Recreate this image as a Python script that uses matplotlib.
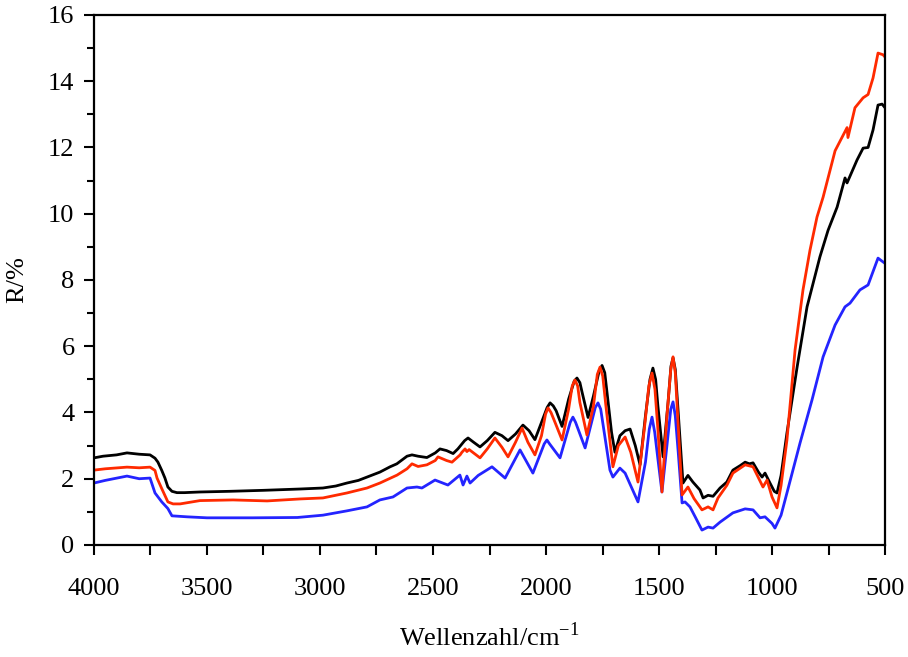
import matplotlib
matplotlib.use("Agg")
import matplotlib.pyplot as plt
from matplotlib.ticker import MultipleLocator

# Reflexionsspektren (Wellenzahl in cm^-1, R in %)
wn_black = [4000, 3960, 3900, 3854, 3800, 3752, 3730, 3717, 3700, 3686, 3673, 3655, 3633, 3600,
            3531, 3400, 3250, 3088, 2987, 2930, 2881, 2830, 2792, 2735, 2690, 2660, 2615, 2593,
            2566, 2527, 2490, 2469, 2440, 2411, 2390, 2360, 2345, 2320, 2292, 2260, 2226, 2195,
            2168, 2135, 2102, 2075, 2049, 2020, 1995, 1982, 1968, 1955, 1929, 1900, 1875, 1863,
            1850, 1840, 1814, 1790, 1765, 1752, 1740, 1730, 1710, 1695, 1673, 1650, 1628, 1605,
            1584, 1560, 1540, 1527, 1515, 1505, 1482, 1460, 1447, 1438, 1428, 1415, 1394, 1372,
            1350, 1319, 1305, 1283, 1261, 1230, 1200, 1173, 1140, 1119, 1100, 1084, 1060, 1044,
            1031, 1009, 990, 978, 960, 934, 889, 845, 788, 752, 712, 677, 668, 624, 597, 575,
            553, 531, 513, 500]
r_black = [2.63, 2.68, 2.72, 2.78, 2.74, 2.72, 2.62, 2.5, 2.25, 2.02, 1.75, 1.62, 1.58, 1.58,
           1.6, 1.62, 1.65, 1.69, 1.72, 1.78, 1.87, 1.95, 2.05, 2.2, 2.36, 2.45, 2.68, 2.72,
           2.68, 2.64, 2.78, 2.9, 2.85, 2.76, 2.9, 3.15, 3.23, 3.1, 2.96, 3.15, 3.4, 3.3,
           3.15, 3.35, 3.62, 3.45, 3.18, 3.7, 4.15, 4.29, 4.2, 4.05, 3.58, 4.4, 4.95, 5.04,
           4.9, 4.6, 3.85, 4.5, 5.25, 5.42, 5.2, 4.6, 3.4, 2.8, 3.3, 3.45, 3.5, 3.0,
           2.42, 3.9, 5.0, 5.34, 5.0, 4.2, 2.66, 4.3, 5.4, 5.65, 5.3, 4.0, 1.87, 2.1,
           1.9, 1.66, 1.42, 1.5, 1.47, 1.72, 1.9, 2.26, 2.4, 2.5, 2.45, 2.48, 2.2, 2.05,
           2.17, 1.87, 1.62, 1.57, 2.1, 3.38, 5.37, 7.19, 8.7, 9.5, 10.2, 11.08, 10.93, 11.62, 11.98, 12.0,
           12.53, 13.28, 13.31, 13.2]

wn_red = [4000, 3950, 3854, 3800, 3752, 3730, 3721, 3700, 3673, 3650, 3619, 3531, 3385, 3234,
          3088, 2987, 2881, 2792, 2735, 2659, 2615, 2593, 2566, 2527, 2490, 2478, 2440, 2416,
          2380, 2372, 2358, 2350, 2340, 2292, 2260, 2226, 2195, 2168, 2135, 2106, 2080, 2049,
          2020, 2002, 1991, 1978, 1960, 1929, 1900, 1884, 1872, 1860, 1850, 1819, 1790, 1773,
          1761, 1749, 1735, 1704, 1680, 1650, 1625, 1593, 1565, 1545, 1531, 1518, 1505, 1487,
          1465, 1448, 1438, 1428, 1415, 1398, 1372, 1345, 1319, 1310, 1283, 1261, 1239, 1200,
          1173, 1119, 1084, 1040, 1022, 1000, 978, 960, 934, 898, 863, 832, 801, 774, 721, 668,
          664, 633, 597, 575, 553, 531, 509, 496]
r_red = [2.26, 2.3, 2.35, 2.33, 2.35, 2.25, 2.02, 1.7, 1.3, 1.24, 1.24, 1.34, 1.36, 1.33,
         1.39, 1.42, 1.57, 1.72, 1.87, 2.11, 2.3, 2.45, 2.37, 2.42, 2.55, 2.66, 2.55, 2.5,
         2.72, 2.8, 2.9, 2.82, 2.88, 2.63, 2.9, 3.23, 2.95, 2.66, 3.1, 3.53, 3.1, 2.72,
         3.3, 3.95, 4.14, 4.0, 3.7, 3.17, 4.1, 4.8, 4.98, 4.8, 4.3, 3.32, 4.2, 5.15,
         5.37, 5.1, 4.2, 2.36, 3.0, 3.26, 2.8, 1.9, 3.5, 4.8, 5.19, 4.7, 3.5, 1.6,
         3.9, 5.3, 5.68, 5.2, 3.6, 1.51, 1.75, 1.4, 1.15, 1.06, 1.15, 1.06, 1.42, 1.8,
         2.17, 2.42, 2.36, 1.75, 1.96, 1.45, 1.12, 1.8, 3.17, 5.89, 7.7, 8.9, 9.9, 10.5, 11.9, 12.6,
         12.3, 13.2, 13.5, 13.6, 14.1, 14.85, 14.8, 14.7]

wn_blue = [4000, 3950, 3854, 3800, 3752, 3730, 3700, 3673, 3655, 3588, 3500, 3300, 3100, 2987,
           2881, 2792, 2735, 2677, 2615, 2571, 2549, 2491, 2434, 2381, 2367, 2350, 2336, 2300,
           2239, 2181, 2115, 2058, 2008, 1996, 1984, 1938, 1893, 1881, 1869, 1827, 1782, 1770,
           1758, 1717, 1704, 1673, 1650, 1593, 1560, 1543, 1531, 1519, 1505, 1487, 1465, 1448,
           1438, 1428, 1415, 1398, 1385, 1363, 1340, 1310, 1283, 1261, 1230, 1173, 1119, 1084,
           1053, 1031, 1000, 987, 960, 934, 876, 823, 774, 721, 677, 655, 611, 575, 531, 500]
r_blue = [1.87, 1.95, 2.08, 2.0, 2.02, 1.57, 1.3, 1.1, 0.88, 0.85, 0.82, 0.82, 0.83, 0.9,
          1.03, 1.15, 1.36, 1.45, 1.72, 1.75, 1.72, 1.96, 1.81, 2.11, 1.81, 2.08, 1.87, 2.1,
          2.36, 2.02, 2.87, 2.17, 3.05, 3.17, 3.05, 2.63, 3.7, 3.86, 3.7, 2.93, 4.15, 4.29,
          4.1, 2.26, 2.05, 2.32, 2.17, 1.3, 2.5, 3.5, 3.86, 3.4, 2.6, 1.6, 3.0, 4.1,
          4.32, 3.9, 2.8, 1.27, 1.3, 1.15, 0.85, 0.45, 0.54, 0.51, 0.69, 0.97, 1.09, 1.06,
          0.82, 0.85, 0.65, 0.51, 0.9, 1.57, 3.08, 4.38, 5.68, 6.64, 7.19, 7.3, 7.7, 7.85, 8.66, 8.5]

plt.rcParams['font.family'] = ['Liberation Serif', 'DejaVu Serif']
plt.rcParams['mathtext.fontset'] = 'custom'
plt.rcParams['mathtext.rm'] = 'Liberation Serif'

fig = plt.figure(figsize=(9.08, 6.57), dpi=100)
ax = fig.add_axes([0.1035, 0.1705, 0.8712, 0.8067])

ax.plot(wn_blue, r_blue, color='#2424ff', lw=2.0)
ax.plot(wn_black, r_black, color='black', lw=2.0)
ax.plot(wn_red, r_red, color='#ff2a00', lw=2.0)

ax.set_xlim(4000, 500)
ax.set_ylim(0, 16)
ax.xaxis.set_major_locator(MultipleLocator(500))
ax.xaxis.set_minor_locator(MultipleLocator(250))
ax.yaxis.set_major_locator(MultipleLocator(2))
ax.yaxis.set_minor_locator(MultipleLocator(1))

for s in ax.spines.values():
    s.set_linewidth(1.6)
ax.tick_params(axis='both', which='both', direction='out', width=1.5, labelsize=19)
ax.tick_params(axis='x', which='both', length=7, pad=17)
ax.tick_params(axis='y', which='major', length=7, pad=7)
ax.tick_params(axis='y', which='minor', length=5)

ax.set_xlabel(r'Wellenzahl/cm$^{\mathrm{-1}}$', fontsize=19, labelpad=16)
ax.set_ylabel('R/%', fontsize=19, labelpad=14)

fig.savefig('out.png', dpi=100)
